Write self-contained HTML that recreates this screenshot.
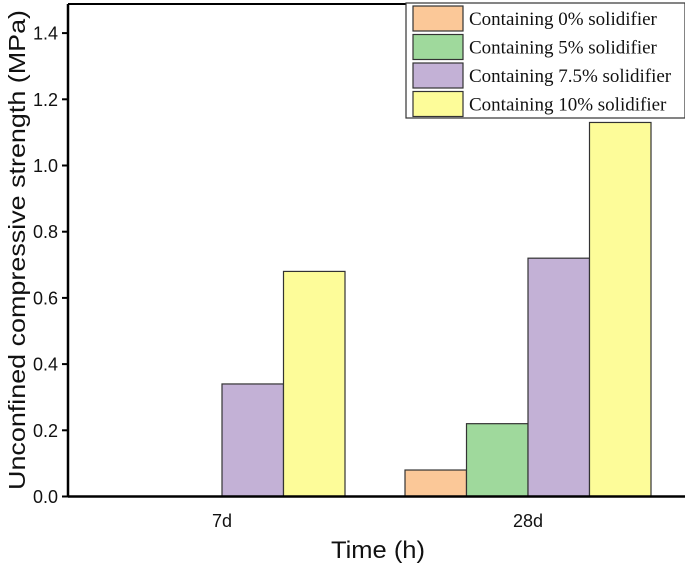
<!DOCTYPE html>
<html><head><meta charset="utf-8"><style>
body{margin:0;background:#fff;}
svg{display:block;font-family:"Liberation Sans",sans-serif;}
</style></head><body>
<svg id="chart" width="685" height="563"></svg>
<script>
const categories = ["7d", "28d"];
const seriesNames = ["Containing 0% solidifier","Containing 5% solidifier","Containing 7.5% solidifier","Containing 10% solidifier"];
const s0 = [0, 0.08];
const s5 = [0, 0.22];
const s75 = [0.34, 0.72];
const s10 = [0.68, 1.13];
const yTicks = [0.0, 0.2, 0.4, 0.6, 0.8, 1.0, 1.2, 1.4];

const series = [s0, s5, s75, s10];
const colors = ["#fbc898","#9fd99c","#c3b1d6","#fdfc99"];
const svg = document.getElementById('chart');
const NS = "http://www.w3.org/2000/svg";
function mk(tag, attrs, parent){const e=document.createElementNS(NS,tag);for(const k in attrs)e.setAttribute(k,attrs[k]);(parent||svg).appendChild(e);return e;}
const L=68,R=686,T=4,B=496.5;
const pxPer = 66.2/0.2;
const y = v => B - v*pxPer;
const groupCenter = [222, 528];
const barW = 61.5;
const x = (ci, si) => groupCenter[ci] + (si-2)*barW;

series.forEach((arr, si) => {
  arr.forEach((v, ci) => {
    if (v <= 0) return;
    const r = mk('rect',{x:x(ci,si),y:y(v),width:barW,height:B-y(v),fill:colors[si],stroke:"#333","stroke-width":1.2});
    
    
  });
});

const ax = mk('g',{});


mk('line',{x1:L,y1:T,x2:L,y2:B,stroke:"#000","stroke-width":2.5},ax);
mk('line',{x1:L,y1:B,x2:R,y2:B,stroke:"#000","stroke-width":2.5},ax);
mk('line',{x1:L,y1:T,x2:R,y2:T,stroke:"#000","stroke-width":2},ax);

yTicks.forEach(t => {
  mk('line',{x1:L-6,y1:y(t),x2:L,y2:y(t),stroke:"#000","stroke-width":2},ax);
  const tx = mk('text',{x:L-10,y:y(t)+6.5,"text-anchor":"end","font-size":18,fill:"#111"});
  tx.textContent = t.toFixed(1);
  
  
});
categories.forEach((c, ci) => {
  const tx = mk('text',{x:groupCenter[ci],y:527,"text-anchor":"middle","font-size":18,fill:"#111"});
  tx.textContent = c;
  
  
});
const xt = mk('text',{x:378,y:558,"text-anchor":"middle","font-size":24,fill:"#111",textLength:94,lengthAdjust:"spacingAndGlyphs"});
xt.textContent = "Time (h)";


const yt = mk('text',{x:0,y:0,"text-anchor":"middle","font-size":23,fill:"#111",textLength:480,lengthAdjust:"spacingAndGlyphs",transform:"translate(25,250) rotate(-90)"});
yt.textContent = "Unconfined compressive strength (MPa)";



const lg = mk('g',{});


mk('rect',{x:406,y:3,width:279,height:115,fill:"#fff",stroke:"#333","stroke-width":1.2},lg);
seriesNames.forEach((n, i) => {
  const g = mk('g',{},lg);
  
  
  const yy = 6 + i*28.5;
  mk('rect',{x:413,y:yy,width:50,height:25,fill:colors[i],stroke:"#333","stroke-width":1.2},g);
  const t = mk('text',{x:469,y:yy+19,"font-size":19,fill:"#111","font-family":"Liberation Serif, serif"},g);
  t.textContent = n;
});
</script>
</body></html>
